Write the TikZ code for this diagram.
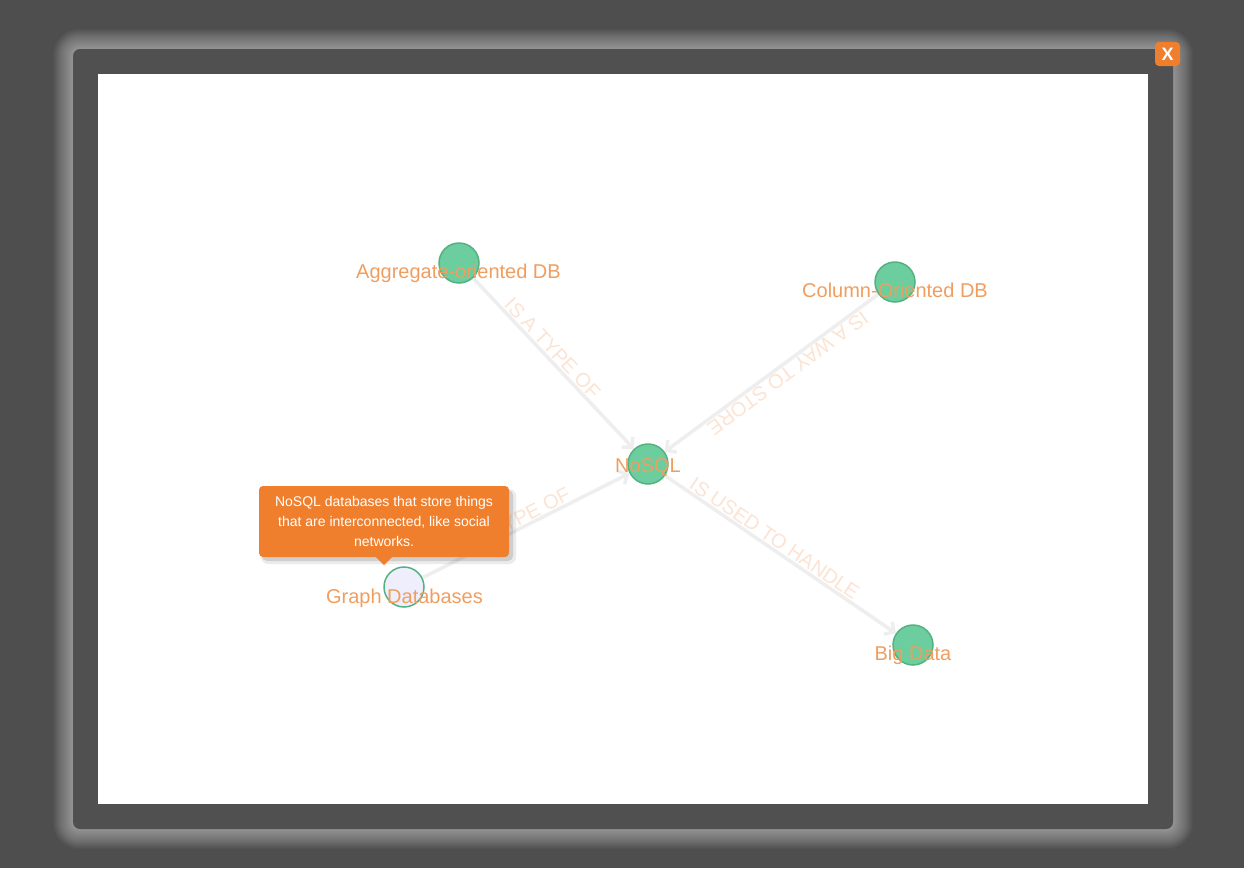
\documentclass[tikz,border=0pt]{standalone}
\usepackage{fontspec}
\setmainfont{Liberation Sans}
\usetikzlibrary{arrows.meta}
\definecolor{bgc}{RGB}{78,78,78}
\definecolor{panelc}{RGB}{80,80,80}
\definecolor{nodefill}{RGB}{108,206,158}
\definecolor{nodeedge}{RGB}{84,178,128}
\definecolor{lblc}{RGB}{240,158,96}
\definecolor{edgec}{RGB}{238,238,238}
\definecolor{elblc}{RGB}{252,228,212}
\definecolor{tipc}{RGB}{240,127,45}
\definecolor{lavender}{RGB}{238,238,252}
\pgfdeclarelayer{bg}
\pgfdeclarelayer{edges}
\pgfsetlayers{bg,edges,main}
\tikzset{
  dbnode/.style={circle, draw=nodeedge, line width=1.5pt, fill=nodefill, minimum size=40pt, inner sep=0pt},
  lbl/.style={font=\fontsize{20}{24}\selectfont, text=lblc, anchor=base, inner sep=0pt},
  edge/.style={draw=edgec, line width=3.5pt, -{Straight Barb[length=7pt,width=15pt]}},
  elbl/.style={font=\fontsize{20}{20}\selectfont, text=elblc, sloped, allow upside down, above=1pt, inner sep=0pt, pos=0.45},
  tip/.style={fill=tipc, rounded corners=4pt, minimum width=250pt, minimum height=71pt, inner sep=0pt, align=center, text=white, font=\fontsize{14}{20}\selectfont}
}
\begin{document}
\begin{tikzpicture}[x=1pt,y=-1pt]
\useasboundingbox (0,0) rectangle (1244,868);
\begin{pgfonlayer}{bg}
\fill[bgc] (0,0) rectangle (1244,868);
\foreach \i in {20,19,...,1} {
  \fill[white, opacity=0.026, rounded corners=6+\i] (73-\i,49-\i) rectangle (1173+\i,829+\i);
}
\fill[panelc, rounded corners=7] (73,49) rectangle (1173,829);
\fill[white] (98,74) rectangle (1148,804);
\end{pgfonlayer}

\node[dbnode] (agg) at (459,263) {};
\node[dbnode] (col) at (895,282) {};
\node[dbnode] (nosql) at (648,464) {};
\node[dbnode, fill=lavender] (graph) at (404,587) {};
\node[dbnode] (big) at (913,645) {};

\begin{pgfonlayer}{edges}
\draw[edge] (agg) -- node[elbl] {IS A TYPE OF} (nosql);
\draw[edge] (col) -- node[elbl] {IS A WAY TO STORE} (nosql);
\draw[edge] (graph) -- node[elbl] {IS A TYPE OF} (nosql);
\draw[edge] (nosql) -- node[elbl] {IS USED TO HANDLE} (big);
\end{pgfonlayer}

\node[lbl] (aggl) at (458.5,278) {Aggregate-oriented DB};
\node[lbl] (coll) at (895,297) {Column-Oriented DB};
\node[lbl] (nosqll) at (648,472) {NoSQL};
\node[lbl] (graphl) at (404.5,603) {Graph Databases};
\node[lbl] (bigl) at (913,660) {Big Data};

\fill[black, opacity=0.08, rounded corners=7] (261,489) rectangle (516,564);
\fill[black, opacity=0.12, rounded corners=5] (262,490) rectangle (513,561);
\node[tip] (tooltip) at (384,521.5) {NoSQL databases that store things\\that are interconnected, like social\\networks.};
\fill[tipc] ([xshift=-8pt]tooltip.south) -- (384,565) -- ([xshift=8pt]tooltip.south) -- cycle;

\node[fill=tipc, rounded corners=4pt, minimum width=25pt, minimum height=24pt, inner sep=0pt, text=white, font=\bfseries\fontsize{18}{18}\selectfont] (close) at (1167.5,54) {X};
\end{tikzpicture}
\end{document}
